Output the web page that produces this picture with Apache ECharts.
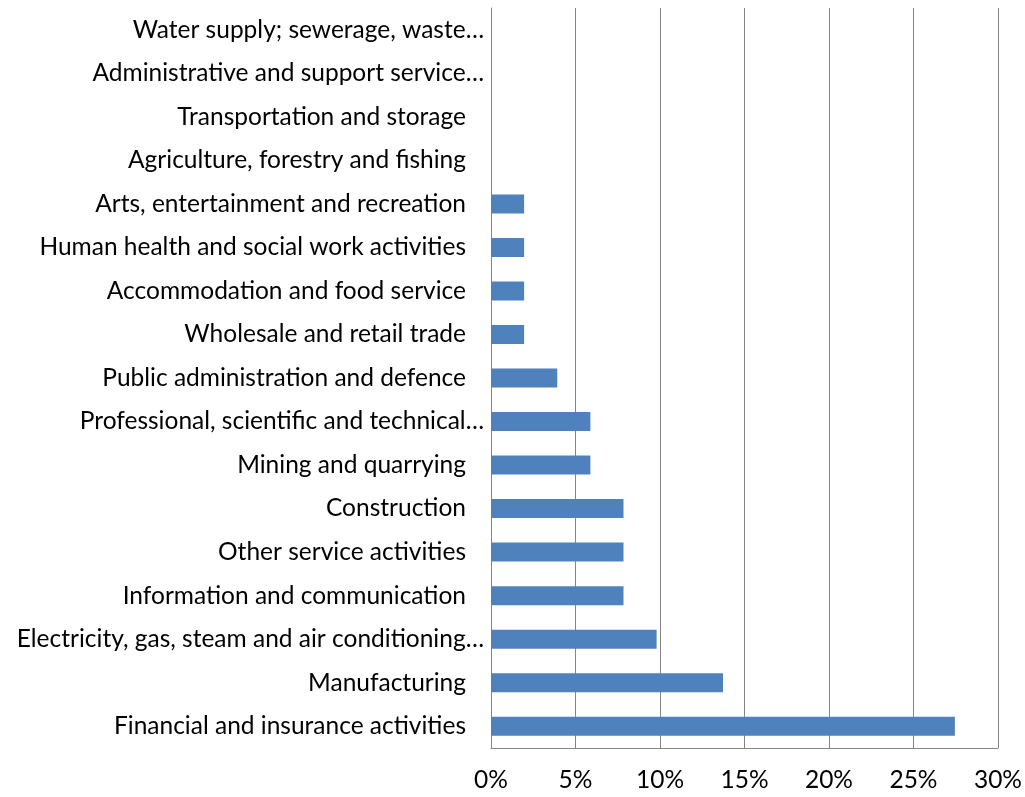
<!DOCTYPE html>
<html lang="en">
<head>
    <meta charset="UTF-8"/>
    <title>Sectors</title>
    <script src="https://cdn.jsdelivr.net/npm/echarts@6/dist/echarts.min.js"></script>
    <style>
        html, body { margin: 0; padding: 0; background: #fff; }
        #chart { width: 1025px; height: 797px; }
    </style>
</head>
<body>
<div id="chart"></div>
<script type="text/javascript">
    // categories from bottom to top
    var categories = [
        'Financial and insurance activities',
        'Manufacturing',
        'Electricity, gas, steam and air conditioning\u2026',
        'Information and communication',
        'Other service activities',
        'Construction',
        'Mining and quarrying',
        'Professional, scientific and technical\u2026',
        'Public administration and defence',
        'Wholesale and retail trade',
        'Accommodation and food service',
        'Human health and social work activities',
        'Arts, entertainment and recreation',
        'Agriculture, forestry and fishing',
        'Transportation and storage',
        'Administrative and support service\u2026',
        'Water supply; sewerage, waste\u2026'
    ];
    // share of respondents, %
    var values = [27.45, 13.73, 9.80, 7.84, 7.84, 7.84, 5.88, 5.88, 3.92, 1.96, 1.96, 1.96, 1.96, 0, 0, 0, 0];

    var fontName = 'Lato';
    var fontPx = 24.5;

    var myChart = echarts.init(document.getElementById('chart'));
    var option = {
        animation: false,
        textStyle: { fontFamily: fontName },
        grid: { left: 491, right: 25, top: 8, bottom: 49 },
        xAxis: {
            type: 'value',
            min: 0,
            max: 30,
            interval: 5,
            axisLine: { show: true, lineStyle: { color: '#868686', width: 1 } },
            axisTick: { show: false },
            splitLine: { show: true, lineStyle: { color: '#868686', width: 1 } },
            axisLabel: {
                color: '#000',
                fontSize: fontPx,
                fontFamily: fontName,
                margin: 20,
                formatter: '{value}%'
            }
        },
        yAxis: {
            type: 'category',
            data: categories,
            axisLine: { show: true, lineStyle: { color: '#868686', width: 1 } },
            axisTick: { show: false },
            axisLabel: {
                color: '#000',
                margin: 7,
                formatter: function (v) {
                    // Excel keeps extra room on the right of labels that are not cut
                    if (v.charAt(v.length - 1) === '\u2026') return '{t|' + v + '}';
                    return '{p|' + v + '}';
                },
                rich: {
                    t: { fontSize: fontPx, color: '#000', fontFamily: fontName },
                    p: { fontSize: fontPx, color: '#000', fontFamily: fontName, padding: [0, 18, 0, 0] }
                }
            }
        },
        series: [
            {
                type: 'bar',
                data: values,
                barWidth: 19,
                itemStyle: { color: '#4F81BD' }
            }
        ]
    };
    myChart.setOption(option);
</script>
</body>
</html>
